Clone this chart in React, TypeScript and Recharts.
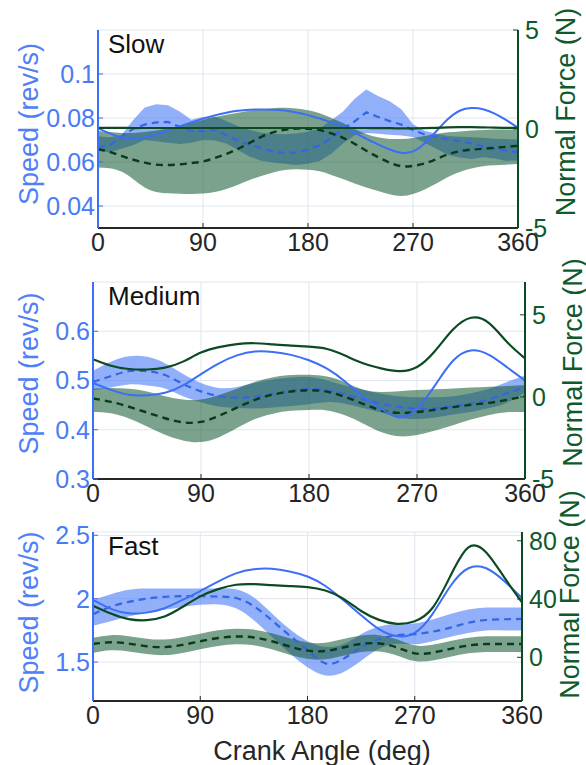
import React from 'react';
import { ComposedChart, Area, Line, XAxis, YAxis, CartesianGrid } from 'recharts';

// crank angle grids (deg)
const angles10 = [0, 10, 20, 30, 40, 50, 60, 70, 80, 90, 100, 110, 120, 130, 140, 150, 160, 170, 180, 190, 200, 210, 220, 230, 240, 250, 260, 270, 280, 290, 300, 310, 320, 330, 340, 350, 360];
const angles15 = [0, 15, 30, 45, 60, 75, 90, 105, 120, 135, 150, 165, 180, 195, 210, 225, 240, 255, 270, 285, 300, 315, 330, 345, 360];

// Slow
const slowSpeedLo = [0.0651, 0.0643, 0.066, 0.0676, 0.07, 0.0694, 0.0688, 0.0682, 0.0688, 0.07, 0.0698, 0.0684, 0.0655, 0.0624, 0.0606, 0.0598, 0.0592, 0.0586, 0.0592, 0.0604, 0.0638, 0.0684, 0.0722, 0.0732, 0.0728, 0.0724, 0.072, 0.0714, 0.0688, 0.066, 0.0632, 0.062, 0.0614, 0.0622, 0.0616, 0.0605, 0.0607];
const slowSpeedHi = [0.0717, 0.0712, 0.0722, 0.079, 0.0848, 0.0862, 0.0858, 0.083, 0.0792, 0.0805, 0.0808, 0.0786, 0.0762, 0.0745, 0.0733, 0.0728, 0.0726, 0.073, 0.0738, 0.0752, 0.079, 0.083, 0.0888, 0.093, 0.09, 0.0876, 0.084, 0.0772, 0.0742, 0.0728, 0.0718, 0.0715, 0.0712, 0.071, 0.0706, 0.0704, 0.0702];
const slowSpeedMean = [0.0666, 0.0676, 0.0715, 0.075, 0.077, 0.078, 0.0782, 0.076, 0.0742, 0.074, 0.0748, 0.0722, 0.0695, 0.068, 0.0662, 0.0649, 0.0641, 0.0643, 0.0656, 0.0676, 0.071, 0.075, 0.0785, 0.0826, 0.0805, 0.0786, 0.077, 0.0745, 0.0725, 0.0714, 0.0703, 0.0695, 0.0685, 0.067, 0.066, 0.0652, 0.0644];
const slowSpeedRef = [0.0753, 0.073, 0.0712, 0.0706, 0.0712, 0.0725, 0.0743, 0.0762, 0.078, 0.0797, 0.0812, 0.0824, 0.0833, 0.0838, 0.0839, 0.0838, 0.0834, 0.0825, 0.0813, 0.0797, 0.078, 0.076, 0.0733, 0.0705, 0.068, 0.0657, 0.0642, 0.0648, 0.0685, 0.074, 0.0795, 0.0833, 0.0845, 0.084, 0.082, 0.079, 0.0755];
const slowForceLo = [-1.94, -1.98, -2.15, -2.52, -2.95, -3.18, -3.25, -3.27, -3.28, -3.26, -3.18, -3.03, -2.82, -2.58, -2.38, -2.2, -2.07, -2.03, -2.06, -2.14, -2.32, -2.53, -2.75, -2.95, -3.13, -3.3, -3.38, -3.28, -3.05, -2.75, -2.42, -2.17, -2.0, -1.88, -1.83, -1.8, -1.77];
const slowForceHi = [-0.1, -0.15, -0.2, -0.2, -0.15, -0.08, 0.02, 0.15, 0.3, 0.46, 0.6, 0.72, 0.82, 0.92, 1.0, 1.05, 1.07, 1.03, 0.95, 0.8, 0.55, 0.3, 0.0, -0.25, -0.42, -0.5, -0.5, -0.45, -0.35, -0.25, -0.17, -0.12, -0.08, -0.05, -0.03, -0.03, -0.03];
const slowForceMean = [-1.02, -1.15, -1.36, -1.55, -1.7, -1.8, -1.82, -1.79, -1.72, -1.64, -1.47, -1.26, -1.0, -0.7, -0.4, -0.17, -0.04, 0.02, 0.01, -0.05, -0.22, -0.45, -0.75, -1.1, -1.42, -1.7, -1.88, -1.86, -1.74, -1.52, -1.28, -1.12, -1.04, -1.0, -0.95, -0.9, -0.85];
const slowForceRef = [0.06, 0.06, 0.06, 0.05, 0.05, 0.05, 0.05, 0.05, 0.05, 0.05, 0.05, 0.05, 0.05, 0.05, 0.05, 0.05, 0.05, 0.05, 0.05, 0.05, 0.05, 0.05, 0.05, 0.05, 0.04, 0.04, 0.03, 0.03, 0.04, 0.06, 0.08, 0.09, 0.09, 0.08, 0.07, 0.06, 0.06];

// Medium
const medSpeedLo = [0.48, 0.486, 0.492, 0.49, 0.484, 0.468, 0.456, 0.447, 0.444, 0.443, 0.445, 0.448, 0.452, 0.456, 0.453, 0.444, 0.435, 0.425, 0.422, 0.425, 0.431, 0.436, 0.444, 0.455, 0.476];
const medSpeedHi = [0.52, 0.538, 0.549, 0.548, 0.535, 0.513, 0.495, 0.485, 0.487, 0.495, 0.502, 0.506, 0.507, 0.5, 0.49, 0.481, 0.473, 0.468, 0.466, 0.466, 0.468, 0.474, 0.483, 0.497, 0.51];
const medSpeedMean = [0.497, 0.509, 0.519, 0.519, 0.511, 0.493, 0.478, 0.468, 0.465, 0.467, 0.473, 0.479, 0.483, 0.48, 0.472, 0.462, 0.453, 0.446, 0.443, 0.444, 0.448, 0.453, 0.462, 0.474, 0.486];
const medSpeedRef = [0.495, 0.481, 0.471, 0.47, 0.475, 0.49, 0.513, 0.535, 0.551, 0.559, 0.558, 0.552, 0.541, 0.524, 0.498, 0.467, 0.443, 0.425, 0.443, 0.49, 0.54, 0.561, 0.552, 0.527, 0.5];
const medForceLo = [-0.92, -1.0, -1.32, -1.8, -2.3, -2.65, -2.75, -2.45, -1.9, -1.35, -1.02, -0.85, -0.8, -0.82, -1.12, -1.62, -2.14, -2.4, -2.32, -2.05, -1.72, -1.38, -1.1, -0.93, -0.92];
const medForceHi = [0.51, 0.55, 0.5, 0.33, 0.04, -0.15, -0.15, 0.12, 0.5, 0.92, 1.2, 1.33, 1.35, 1.25, 0.9, 0.45, 0.3, 0.35, 0.42, 0.47, 0.52, 0.57, 0.62, 0.67, 0.71];
const medForceMean = [-0.1, -0.3, -0.6, -0.95, -1.3, -1.55, -1.52, -1.15, -0.65, -0.18, 0.14, 0.33, 0.41, 0.32, 0.0, -0.42, -0.82, -0.97, -0.92, -0.78, -0.62, -0.48, -0.36, -0.18, 0.04];
const medForceRef = [2.29, 1.9, 1.7, 1.67, 1.78, 2.15, 2.7, 3.03, 3.22, 3.27, 3.2, 3.13, 3.06, 2.92, 2.52, 2.05, 1.74, 1.57, 1.82, 2.8, 4.1, 4.82, 4.5, 3.35, 2.35];

// Fast
const fastSpeedLo = [1.787, 1.823, 1.86, 1.89, 1.912, 1.935, 1.952, 1.955, 1.925, 1.83, 1.7, 1.57, 1.46, 1.395, 1.42, 1.51, 1.605, 1.645, 1.64, 1.665, 1.7, 1.73, 1.75, 1.75, 1.75];
const fastSpeedHi = [1.99, 2.035, 2.07, 2.08, 2.08, 2.08, 2.08, 2.082, 2.075, 2.01, 1.885, 1.76, 1.665, 1.62, 1.64, 1.72, 1.78, 1.8, 1.805, 1.835, 1.88, 1.915, 1.93, 1.93, 1.93];
const fastSpeedMean = [1.877, 1.937, 1.975, 2.0, 2.015, 2.02, 2.02, 2.017, 2.005, 1.94, 1.83, 1.71, 1.595, 1.49, 1.525, 1.615, 1.68, 1.712, 1.72, 1.74, 1.772, 1.81, 1.832, 1.838, 1.84];
const fastSpeedRef = [1.99, 1.92, 1.885, 1.89, 1.925, 1.99, 2.06, 2.135, 2.2, 2.232, 2.236, 2.215, 2.175, 2.1, 1.99, 1.87, 1.76, 1.705, 1.73, 1.88, 2.1, 2.24, 2.24, 2.14, 2.005];
const fastForceLo = [3.0, 4.8, 4.0, 2.2, 1.5, 3.0, 5.6, 7.8, 8.9, 8.2, 5.5, 1.8, -1.0, -1.4, 1.0, 3.6, 4.0, 1.3, -2.6, -2.2, 0.4, 2.7, 3.6, 3.6, 3.5];
const fastForceHi = [13.4, 15.2, 14.5, 12.8, 12.2, 13.8, 16.2, 18.5, 19.6, 19.0, 16.5, 13.0, 10.2, 10.0, 12.5, 15.0, 15.2, 12.3, 8.2, 8.6, 11.2, 13.5, 14.4, 14.5, 14.4];
const fastForceMean = [9.1, 10.3, 9.4, 7.6, 7.0, 8.5, 11.0, 13.2, 14.3, 13.6, 11.0, 7.4, 4.6, 4.3, 6.7, 9.2, 9.5, 6.8, 2.7, 3.2, 5.8, 8.1, 9.1, 9.1, 9.1];
const fastForceRef = [35.4, 30, 26.2, 25.5, 28, 34.5, 41.8, 46.8, 49.8, 50.2, 49.5, 48.9, 48.2, 45.8, 40.2, 31.8, 25.7, 23, 24.8, 34, 56, 75.5, 72, 55, 37.7];

const angleTicks = [0, 90, 180, 270, 360];

const FONT = '"Liberation Sans", Arial, Helvetica, sans-serif';
const BLUE = '#3c6ff5';
const BLUE_TEXT = '#4a7bf6';
const BLUE_DASH = '#3466e2';
const GREEN = '#0b4a22';
const GREEN_TEXT = '#0e5a2b';
const GREEN_DASH = '#093b1b';
const INK = '#262626';

function buildRows(angles: number[], sLo: number[], sHi: number[], sMean: number[], sRef: number[], fLo: number[], fHi: number[], fMean: number[], fRef: number[]) {
  return angles.map((a, i) => ({
    angle: a,
    sBand: [sLo[i], sHi[i]],
    sMean: sMean[i],
    sRef: sRef[i],
    fBand: [fLo[i], fHi[i]],
    fMean: fMean[i],
    fRef: fRef[i],
  }));
}

const SideLabel = (props: any) => {
  const { viewBox, text, color, dx, dy } = props;
  const cx = viewBox.x + dx;
  const cy = viewBox.y + viewBox.height / 2 + dy;
  return (
    <text x={cx} y={cy} transform={`rotate(-90 ${cx} ${cy})`} textAnchor="middle" dominantBaseline="central"
      fill={color} fontSize={27} fontFamily={FONT}>{text}</text>
  );
};

const BottomLabel = (props: any) => {
  const { viewBox, text, dx, dy } = props;
  return (
    <text x={viewBox.x + dx} y={viewBox.y + dy} textAnchor="middle" dominantBaseline="central"
      fill={INK} fontSize={27} fontFamily={FONT}>{text}</text>
  );
};

interface PanelProps {
  title: string;
  top: number;
  height: number;
  marginTop: number;
  marginBottom: number;
  leftWidth: number;
  rightWidth: number;
  rows: any[];
  speedDomain: number[];
  speedTicks: number[];
  forceDomain: number[];
  forceTicks: number[];
  speedCurve: 'linear' | 'natural';
  speedLabelDy: number;
  forceLabelDy: number;
  titleTop: number;
  titleLeft: number;
  xLabel?: string;
}

const Panel: React.FC<PanelProps> = (p) => (
  <div style={{ position: 'absolute', left: 0, top: p.top, width: 586, height: p.height }}>
    <ComposedChart width={586} height={p.height} data={p.rows}
      margin={{ top: p.marginTop, right: 0, bottom: p.marginBottom, left: 0 }}>
      <CartesianGrid yAxisId="left" stroke="#dfe5ee" strokeWidth={1} />
      <XAxis dataKey="angle" type="number" domain={[0, 360]} ticks={angleTicks} interval={0}
        height={30} axisLine={{ stroke: INK, strokeWidth: 2 }} tickLine={{ stroke: INK }} tickSize={-5} tickMargin={10}
        tick={{ fill: INK, fontSize: 25, fontFamily: FONT }}
        label={p.xLabel ? <BottomLabel text={p.xLabel} dx={229} dy={50} /> : undefined} />
      <YAxis yAxisId="left" orientation="left" width={p.leftWidth} type="number" domain={p.speedDomain}
        ticks={p.speedTicks} interval={0} allowDataOverflow
        axisLine={{ stroke: BLUE, strokeWidth: 2 }} tickLine={{ stroke: BLUE }} tickSize={-5} tickMargin={8}
        tick={{ fill: BLUE_TEXT, fontSize: 25, fontFamily: FONT }}
        label={<SideLabel text="Speed (rev/s)" color="#4f80f7" dx={29} dy={p.speedLabelDy} />} />
      <YAxis yAxisId="right" orientation="right" width={p.rightWidth} type="number" domain={p.forceDomain}
        ticks={p.forceTicks} interval={0} allowDataOverflow
        axisLine={{ stroke: GREEN, strokeWidth: 2 }} tickLine={{ stroke: GREEN }} tickSize={-5} tickMargin={12}
        tick={{ fill: GREEN_TEXT, fontSize: 25, fontFamily: FONT }}
        label={<SideLabel text="Normal Force (N)" color={GREEN_TEXT} dx={48} dy={p.forceLabelDy} />} />

      <Area yAxisId="left" dataKey="sBand" type={p.speedCurve} stroke="none" fill="#4d7ff5" fillOpacity={0.62}
        isAnimationActive={false} />
      <Area yAxisId="right" dataKey="fBand" type="natural" stroke="none" fill="#145a32" fillOpacity={0.56}
        isAnimationActive={false} />
      <Line yAxisId="left" dataKey="sMean" type={p.speedCurve} stroke={BLUE_DASH} strokeWidth={2.2}
        strokeDasharray="7 5" dot={false} isAnimationActive={false} />
      <Line yAxisId="right" dataKey="fMean" type="natural" stroke={GREEN_DASH} strokeWidth={2.4}
        strokeDasharray="7 5" dot={false} isAnimationActive={false} />
      <Line yAxisId="left" dataKey="sRef" type="natural" stroke={BLUE} strokeWidth={2}
        dot={false} isAnimationActive={false} />
      <Line yAxisId="right" dataKey="fRef" type="natural" stroke={GREEN} strokeWidth={2.2}
        dot={false} isAnimationActive={false} />
    </ComposedChart>
    <div style={{ position: 'absolute', left: p.titleLeft, top: p.titleTop, fontFamily: FONT, fontSize: 26,
      lineHeight: '26px', color: '#111' }}>{p.title}</div>
  </div>
);

const slowRows = buildRows(angles10, slowSpeedLo, slowSpeedHi, slowSpeedMean, slowSpeedRef, slowForceLo, slowForceHi, slowForceMean, slowForceRef);
const medRows = buildRows(angles15, medSpeedLo, medSpeedHi, medSpeedMean, medSpeedRef, medForceLo, medForceHi, medForceMean, medForceRef);
const fastRows = buildRows(angles15, fastSpeedLo, fastSpeedHi, fastSpeedMean, fastSpeedRef, fastForceLo, fastForceHi, fastForceMean, fastForceRef);

export default function App() {
  return (
    <div style={{ position: 'absolute', left: 0, top: 0, width: 586, height: 765, background: '#fff', overflow: 'hidden' }}>
      <style>{'.recharts-surface, .recharts-wrapper { overflow: visible !important; }'}</style>
      <Panel title="Slow" top={0} height={262} marginTop={30} marginBottom={4} leftWidth={98} rightWidth={68}
        rows={slowRows} speedDomain={[0.03, 0.12]} speedTicks={[0.04, 0.06, 0.08, 0.1]}
        forceDomain={[-5, 5]} forceTicks={[-5, 0, 5]} speedCurve="linear"
        speedLabelDy={-5} forceLabelDy={-17} titleTop={31} titleLeft={108} />
      <Panel title="Medium" top={262} height={250} marginTop={20} marginBottom={3} leftWidth={93} rightWidth={61}
        rows={medRows} speedDomain={[0.3, 0.7]} speedTicks={[0.3, 0.4, 0.5, 0.6]}
        forceDomain={[-5, 7]} forceTicks={[-5, 0, 5]} speedCurve="natural"
        speedLabelDy={-7} forceLabelDy={-18} titleTop={21} titleLeft={108} />
      <Panel title="Fast" top={512} height={253} marginTop={20} marginBottom={34} leftWidth={93} rightWidth={64}
        rows={fastRows} speedDomain={[1.193, 2.526]} speedTicks={[1.5, 2, 2.5]}
        forceDomain={[-30, 86]} forceTicks={[0, 40, 80]} speedCurve="natural"
        speedLabelDy={-4} forceLabelDy={-22} titleTop={21} titleLeft={108} xLabel="Crank Angle (deg)" />
    </div>
  );
}
